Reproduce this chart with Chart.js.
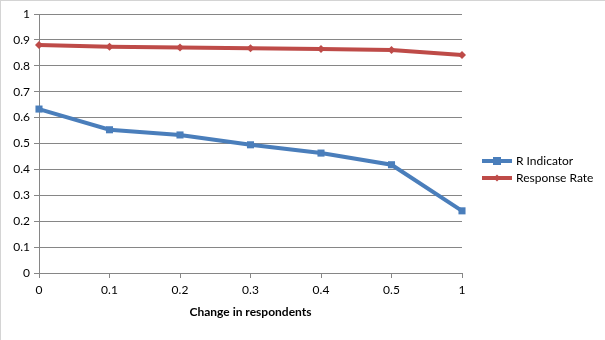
<!DOCTYPE html>
<html>
<head>
<meta charset="utf-8">
<script src="https://cdn.jsdelivr.net/npm/chart.js@4/dist/chart.umd.min.js"></script>
<style>
  html, body { margin: 0; padding: 0; background: #fff; }
  #wrap {
    width: 605px; height: 340px; box-sizing: border-box;
    border-left: 1px solid #d4d4d4; border-top: 1px solid #d4d4d4;
  }
  #wrap canvas { display: block; }
</style>
</head>
<body>
<div id="wrap"><canvas id="chart" width="604" height="339"></canvas></div>
<script>
// categories on the x axis (change in respondents)
var changeLabels = ["0", "0.1", "0.2", "0.3", "0.4", "0.5", "1"];
// series values
var rIndicator = [0.633, 0.553, 0.533, 0.495, 0.463, 0.418, 0.240];
var responseRate = [0.880, 0.874, 0.871, 0.868, 0.865, 0.861, 0.842];
// y tick range
var yMin = 0, yMax = 1, yStep = 0.1;

var font = { family: "Lato, 'Open Sans', sans-serif", size: 12 };
var gridGray = "#868686";

// small legend drawn like the Excel one (line + marker)
var sideLegend = {
  id: "sideLegend",
  afterDraw: function (chart) {
    var c = chart.ctx;
    var x0 = 481, y0 = 160, gap = 17;
    chart.data.datasets.forEach(function (ds, i) {
      var y = y0 + i * gap;
      c.save();
      c.strokeStyle = ds.borderColor;
      c.lineWidth = 4;
      c.beginPath();
      c.moveTo(x0, y);
      c.lineTo(x0 + 30, y);
      c.stroke();
      c.fillStyle = ds.borderColor;
      if (ds.pointStyle === "rect") {
        c.fillRect(x0 + 11, y - 4, 8, 8);
      } else {
        c.beginPath();
        c.moveTo(x0 + 15, y - 3.5);
        c.lineTo(x0 + 18.5, y);
        c.lineTo(x0 + 15, y + 3.5);
        c.lineTo(x0 + 11.5, y);
        c.closePath();
        c.fill();
      }
      c.fillStyle = "#000";
      c.font = font.size + "px " + font.family;
      c.textBaseline = "middle";
      c.fillText(ds.label, x0 + 34, y);
      c.restore();
    });
  }
};

new Chart(document.getElementById("chart"), {
  type: "line",
  data: {
    labels: changeLabels,
    datasets: [{
      label: "R Indicator",
      data: rIndicator,
      borderColor: "#4a7ebb",
      backgroundColor: "#4a7ebb",
      borderWidth: 4,
      pointStyle: "rect",
      pointRadius: 5,
      pointBorderWidth: 0,
      tension: 0
    }, {
      label: "Response Rate",
      data: responseRate,
      borderColor: "#be4b48",
      backgroundColor: "#be4b48",
      borderWidth: 4,
      pointStyle: "rectRot",
      pointRadius: 4,
      pointBorderWidth: 0,
      tension: 0
    }]
  },
  options: {
    responsive: false,
    animation: false,
    layout: { padding: { left: 0, top: 13, right: 143, bottom: 0 } },
    plugins: { legend: { display: false }, tooltip: { enabled: false } },
    scales: {
      x: {
        offset: false,
        grid: { display: true, drawOnChartArea: false, color: gridGray, tickLength: 5 },
        border: { color: gridGray },
        ticks: { color: "#000", font: font, padding: 5, maxRotation: 0 },
        title: {
          display: true, text: "Change in respondents", color: "#000",
          font: { family: font.family, size: 12, weight: "bold" },
          padding: { top: 0, bottom: 21 }
        },
        afterFit: function (s) { s.height = 67; }
      },
      y: {
        min: yMin, max: yMax,
        grid: { color: gridGray, tickLength: 5 },
        border: { color: gridGray },
        ticks: {
          stepSize: yStep, color: "#000", font: font, padding: 4,
          callback: function (v) { return String(+v.toFixed(1)); }
        },
        afterFit: function (s) { s.width = 38; }
      }
    }
  },
  plugins: [sideLegend]
});
</script>
</body>
</html>
